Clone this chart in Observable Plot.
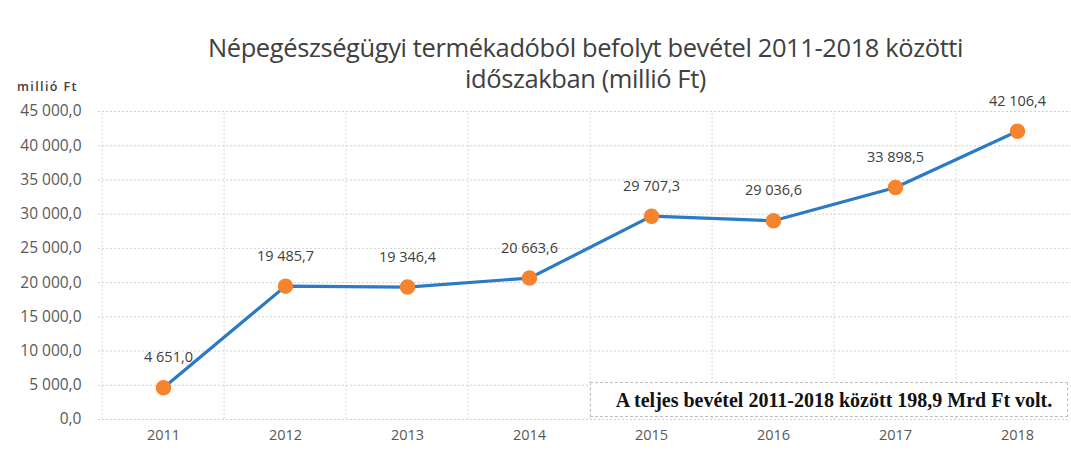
<!DOCTYPE html>
<html>
<head>
<meta charset="utf-8">
<script src="https://cdn.jsdelivr.net/npm/d3@7"></script>
<script src="https://cdn.jsdelivr.net/npm/@observablehq/plot@0.6"></script>
<style>
  html, body { margin: 0; padding: 0; background: #fff; }
  #wrap { position: relative; width: 1071px; height: 450px; overflow: hidden; }
  #title { position: absolute; left: 0; width: 1171px; top: 32px; text-align: center;
           font-family: "Open Sans", sans-serif; font-size: 25.5px; line-height: 31px; color: #404040; letter-spacing: -0.4px; }
  #unit { position: absolute; left: 17px; top: 78px; font-family: "Open Sans", sans-serif; font-size: 12.5px; font-weight: 600; letter-spacing: 1.4px; color: #404040; }
  #note { position: absolute; left: 590px; top: 382px; width: 478px; height: 35px; box-sizing: border-box;
          border: 1px dashed #bfbfbf; background: #fff; text-align: center; white-space: nowrap;
          font-family: "Liberation Serif", "Times New Roman", serif; font-weight: bold; font-size: 20px; line-height: 34px; color: #111; padding-left: 10px; }
</style>
</head>
<body>
<div id="wrap">
  <div id="chart"></div>
  <div id="title"></div>
  <div id="unit"></div>
  <div id="note"></div>
</div>
<script>
const titleLines = ["Népegészségügyi termékadóból befolyt bevétel 2011-2018 közötti", "időszakban (millió Ft)"];
const unitLabel = "millió Ft";
const noteText = "A teljes bevétel 2011-2018 között 198,9 Mrd Ft volt.";
const years = ["2011", "2012", "2013", "2014", "2015", "2016", "2017", "2018"];
const revenue = [4651.0, 19485.7, 19346.4, 20663.6, 29707.3, 29036.6, 33898.5, 42106.4];
const yTicks = [0, 5000, 10000, 15000, 20000, 25000, 30000, 35000, 40000, 45000];

const fmt = d3.formatLocale({decimal: ",", thousands: "\u00a0", grouping: [3]}).format(",.1f");
const data = years.map((y, i) => ({year: y, value: revenue[i]}));

document.getElementById("title").innerHTML = titleLines.join("<br>");
document.getElementById("unit").textContent = unitLabel;
document.getElementById("note").textContent = noteText;

const step = (1020 - 160) / 7;

const chart = Plot.plot({
  width: 1071,
  height: 450,
  marginTop: 111,
  marginBottom: 31,
  marginLeft: 98,
  marginRight: 0,
  style: {fontFamily: "Open Sans, sans-serif", fontSize: "14.5px", color: "#595959", background: "#fff"},
  x: {type: "point", domain: years, range: [160, 1020], padding: 0, label: null},
  y: {domain: [0, 45000], label: null, axis: null},
  marks: [
    Plot.ruleY(yTicks, {stroke: "#d0d0d0", strokeDasharray: "2,2", strokeWidth: 1}),
    Plot.ruleX(years, {x: d => d, dx: -step / 2, y1: 0, y2: 45000, stroke: "#d8d8d8", strokeDasharray: "2,2", strokeWidth: 1}),
    Plot.ruleX(years.slice(-1), {x: d => d, dx: step / 2, y1: 0, y2: 45000, stroke: "#d8d8d8", strokeDasharray: "2,2", strokeWidth: 1}),
    Plot.text(yTicks, {y: d => d, text: d => fmt(d), frameAnchor: "left", textAnchor: "end", dx: -17, fill: "#595959", fontSize: 15.5}),
    Plot.axisX({tickSize: 0, tickPadding: 10, fill: "#595959", fontSize: 14.5, label: null}),
    Plot.line(data, {x: "year", y: "value", stroke: "#2a7ac6", strokeWidth: 3.2}),
    Plot.dot(data, {x: "year", y: "value", r: 7, fill: "#f5842f", stroke: "#f5842f"}),
    Plot.text(data.slice(0, 1), {x: "year", y: "value", text: d => fmt(d.value), dy: -30, dx: 5, fill: "#404040", fontSize: 14.5}),
    Plot.text(data.slice(1), {x: "year", y: "value", text: d => fmt(d.value), dy: -30, fill: "#404040", fontSize: 14.5})
  ]
});
document.getElementById("chart").appendChild(chart);
</script>
</body>
</html>
